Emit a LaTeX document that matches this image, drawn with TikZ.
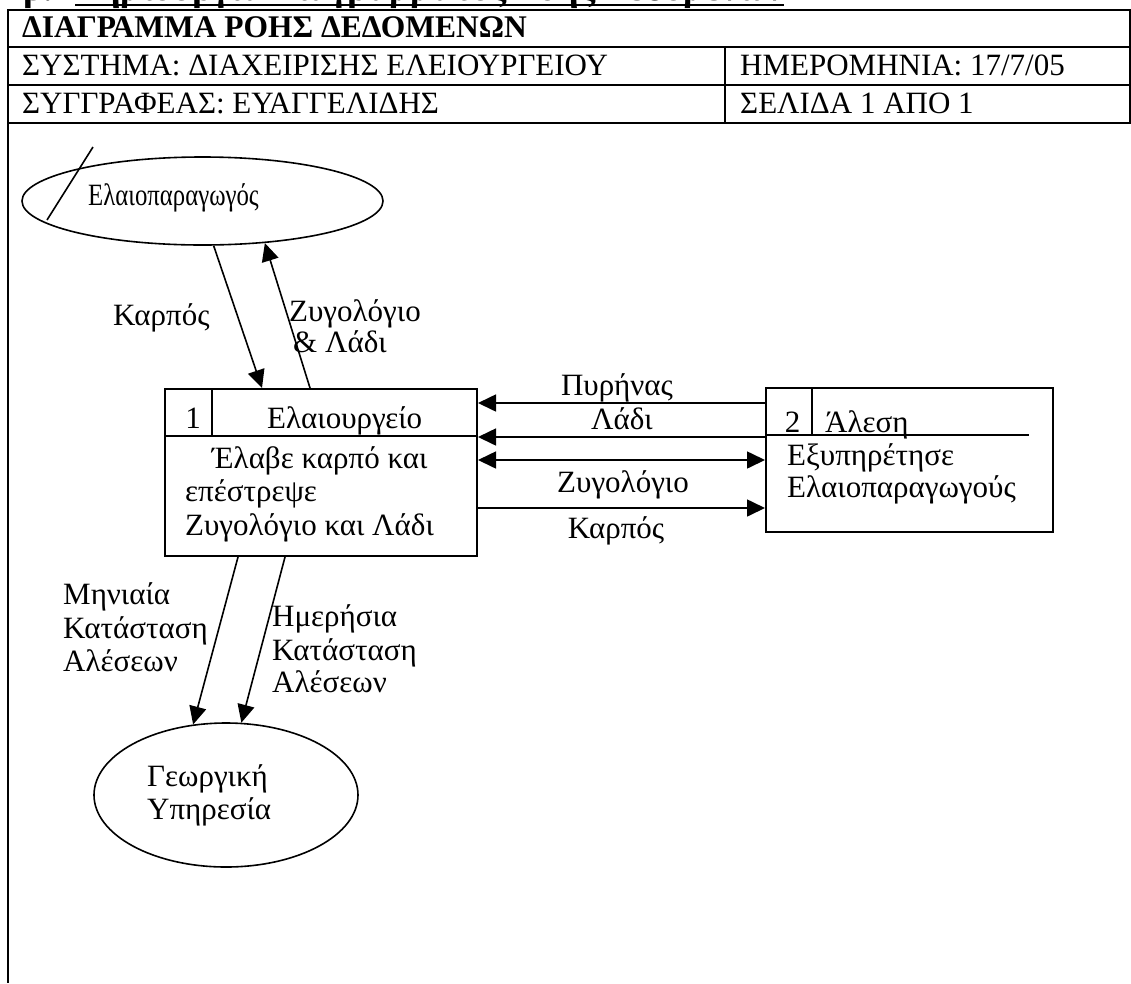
\documentclass[tikz,border=0pt]{standalone}
\usepackage{fontspec}
\setmainfont{Liberation Serif}
\usetikzlibrary{arrows.meta,shapes.geometric}
\begin{document}
\begin{tikzpicture}[x=1pt,y=-1pt,
  txt/.style={font=\fontsize{31}{34}\selectfont, inner sep=0pt, anchor=base west},
  ctxt/.style={font=\fontsize{31}{34}\selectfont, inner sep=0pt, anchor=base},
  btxt/.style={font=\bfseries\fontsize{31.5}{34}\selectfont, inner sep=0pt, anchor=base west},
  ttl/.style={font=\bfseries\fontsize{38}{42}\selectfont, inner sep=0pt, anchor=base west},
  tbl/.style={line width=2pt},
  procbox/.style={draw, line width=2pt, inner sep=0pt},
  ext/.style={ellipse, draw, line width=1.6pt, inner sep=0pt},
  conn/.style={line width=1.6pt},
  arr/.style={-{Triangle[length=18pt,width=17pt]}},
  darr/.style={{Triangle[length=18pt,width=17pt]}-{Triangle[length=18pt,width=17pt]}}]
\useasboundingbox (0,0) rectangle (1131,983);
\clip (0,0) rectangle (1131,983);
\fill[white] (0,0) rectangle (1131,983);

% title (cut off at the top, as in the original)
\node[ttl] (ttlA) at (23,0) {β.};
\node[ttl] (ttlB) at (75,0) {Δημιουργία Διαγράμματος Ροής Δεδομένων};
\draw[line width=2pt] ([yshift=-4.5pt]ttlB.base west) -- ([yshift=-4.5pt]ttlB.base east);

% header table
\draw[tbl] (8,10) rectangle (1130,123);
\draw[tbl] (8,47) -- (1130,47);
\draw[tbl] (8,85) -- (1130,85);
\draw[tbl] (725,47) -- (725,123);
\draw[tbl] (8,123) -- (8,983);
\node[btxt] (hdr) at (22,37) {ΔΙΑΓΡΑΜΜΑ ΡΟΗΣ ΔΕΔΟΜΕΝΩΝ};
\node[txt] (sys) at (22,75) {ΣΥΣΤΗΜΑ: ΔΙΑΧΕΙΡΙΣΗΣ ΕΛΕΙΟΥΡΓΕΙΟΥ};
\node[txt] (date) at (740,75) {ΗΜΕΡΟΜΗΝΙΑ: 17/7/05};
\node[txt] (auth) at (22,113) {ΣΥΓΓΡΑΦΕΑΣ: ΕΥΑΓΓΕΛΙΔΗΣ};
\node[txt] (page) at (740,113) {ΣΕΛΙΔΑ 1 ΑΠΟ 1};

% external entity: producer
\node[ext, minimum width=361pt, minimum height=88pt] (prod) at (202.5,201) {};
\node[txt, transform shape, xscale=0.8] (prodt) at (88,205) {Ελαιοπαραγωγός};
\coordinate (slA) at (93,147);
\coordinate (slB) at (47,220);
\draw[conn] (slA) -- (slB);

% process 1
\node[procbox, minimum width=312pt, minimum height=167pt] (p1) at (321,472.5) {};
\draw[tbl] (p1.north west) ++(0,48) -- ++(312,0);
\draw[tbl] (p1.north west) ++(48,0) -- ++(0,48);
\node[ctxt] (p1n) at (193,428) {1};
\node[txt] (p1t) at (267,428) {Ελαιουργείο};
\node[txt] (p1a) at (212,468) {Έλαβε καρπό και};
\node[txt] (p1b) at (185,501) {επέστρεψε};
\node[txt] (p1c) at (185,535) {Ζυγολόγιο και Λάδι};

% process 2
\node[procbox, minimum width=287pt, minimum height=144pt] (p2) at (909.5,460) {};
\draw[tbl] (p2.north west) ++(0,48) -- ++(264,0);
\draw[tbl] (p2.north west) ++(47,0) -- ++(0,48);
\node[ctxt] (p2n) at (792.5,432) {2};
\node[txt] (p2t) at (825,432) {Άλεση};
\node[txt] (p2a) at (787,465) {Εξυπηρέτησε};
\node[txt] (p2b) at (787,497) {Ελαιοπαραγωγούς};

% external entity: agricultural service
\node[ext, minimum width=264pt, minimum height=144pt] (geo) at (226,795) {};
\node[txt] (geoa) at (147,786) {Γεωργική};
\node[txt] (geob) at (147,819) {Υπηρεσία};

% flows producer <-> process 1
\draw[conn,arr] (prod.-76) -- ([xshift=-59pt]p1.north);
\draw[conn,arr] ([xshift=-11pt]p1.north) -- (prod.-34.2);
\node[txt] (l1) at (113,325) {Καρπός};
\node[txt] (l2a) at (289,321) {Ζυγολόγιο};
\node[txt] (l2b) at (293,352) {\& Λάδι};

% flows between processes
\draw[conn,arr] (p2.west |- 0,403) -- (p1.east |- 0,403);
\draw[conn,arr] (p2.west |- 0,437) -- (p1.east |- 0,437);
\draw[conn,darr] (p1.east |- 0,460) -- (p2.west |- 0,460);
\draw[conn,arr] (p1.east |- 0,508) -- (p2.west |- 0,508);
\node[ctxt] (l3) at (617,395) {Πυρήνας};
\node[ctxt] (l4) at (622,429) {Λάδι};
\node[ctxt] (l5) at (623,492) {Ζυγολόγιο};
\node[ctxt] (l6) at (616,538) {Καρπός};

% flows process 1 -> agricultural service
\draw[conn,arr] ([xshift=-83pt]p1.south) -- (geo.115.9);
\draw[conn,arr] ([xshift=-36pt]p1.south) -- (geo.78.9);
\node[txt] (m1) at (63,604) {Μηνιαία};
\node[txt] (m2) at (63,638) {Κατάσταση};
\node[txt] (m3) at (63,671) {Αλέσεων};
\node[txt] (d1) at (272,626) {Ημερήσια};
\node[txt] (d2) at (272,660) {Κατάσταση};
\node[txt] (d3) at (272,692) {Αλέσεων};
\end{tikzpicture}
\end{document}
